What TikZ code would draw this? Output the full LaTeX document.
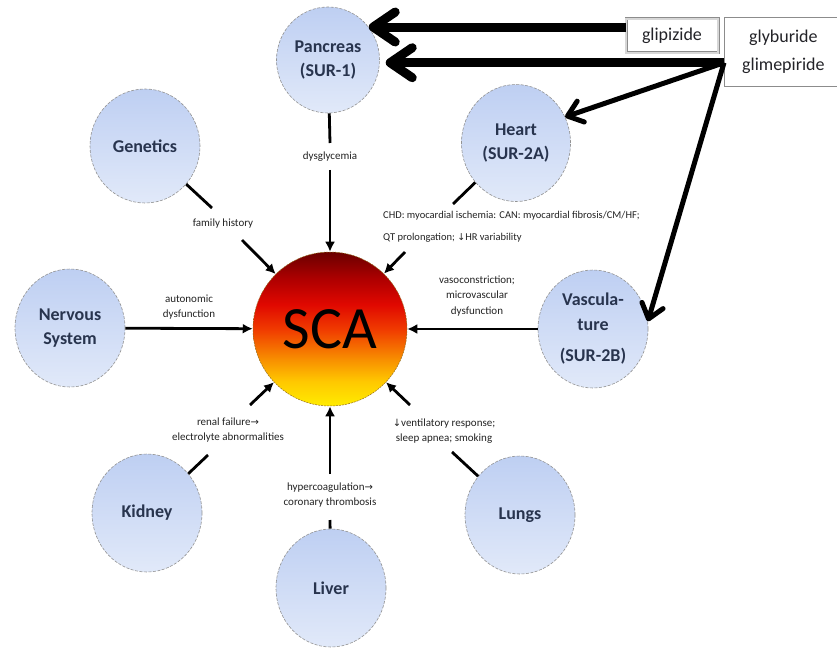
\documentclass[tikz,border=0pt]{standalone}
\usepackage{fontspec}
\setmainfont{Carlito}
\newfontfamily\symf{DejaVu Sans}
\usetikzlibrary{arrows.meta,shapes.geometric}
\definecolor{circtop}{RGB}{190,207,242}
\definecolor{circbot}{RGB}{225,233,249}
\definecolor{circtext}{RGB}{40,52,78}
\definecolor{labtext}{RGB}{35,35,35}
\definecolor{boxtext}{RGB}{35,35,40}
\definecolor{scayel}{RGB}{255,236,0}
\definecolor{scagold}{RGB}{255,200,0}
\definecolor{scaora}{RGB}{248,144,0}
\definecolor{scaorred}{RGB}{240,58,0}
\definecolor{scared}{RGB}{224,8,0}
\definecolor{scadeep}{RGB}{176,0,0}
\definecolor{scadark}{RGB}{106,0,0}
\definecolor{scaborder}{RGB}{150,110,30}
\definecolor{boxline}{RGB}{140,140,140}
\definecolor{boxinner}{RGB}{215,215,215}
\pgfdeclareverticalshading{scashade}{100bp}{color(0bp)=(scayel);color(25bp)=(scayel);color(33bp)=(scagold);color(40bp)=(scaora);color(50bp)=(scaorred);color(58bp)=(scared);color(66bp)=(scadeep);color(75bp)=(scadark);color(100bp)=(scadark)}
\begin{document}
\begin{tikzpicture}[x=1pt,y=-1pt,
  organ/.style={ellipse, minimum width=110pt, minimum height=118pt, inner sep=0pt,
    top color=circtop, bottom color=circbot, draw=gray!85, dash pattern=on 3pt off 1.5pt,
    line width=0.6pt, text=circtext, font=\fontsize{18}{24.5}\selectfont\bfseries, align=center},
  scanode/.style={circle, minimum size=154pt, inner sep=0pt, shading=scashade,
    draw=scaborder, dash pattern=on 2pt off 1pt, line width=0.5pt,
    font=\fontsize{60}{60}\selectfont, text=black},
  lab/.style={font=\fontsize{11}{15.5}\selectfont, text=labtext, align=center, inner sep=0pt},
  drugbox/.style={rectangle, draw=boxline, line width=0.8pt, fill=white, text=boxtext,
    font=\fontsize{18}{28}\selectfont, align=center, inner sep=0pt},
  link/.style={line width=2.8pt},
  toSCA/.style={line width=2.8pt, -{Latex[length=10pt,width=10pt]}},
  bigarr/.style={line width=9pt, -{Straight Barb[length=22pt,width=30pt,round]}},
  medarr/.style={line width=5pt, -{Straight Barb[length=14pt,width=22pt,round]}}
]
\useasboundingbox (0,0) rectangle (837,652);
\fill[white] (0,0) rectangle (837,652);

% organs
\node[organ, minimum width=103pt, minimum height=106pt] (pan) at (328,60) {Pancreas\\(SUR-1)};
\node[organ, minimum width=110pt, minimum height=114pt] (gen) at (145,146) {Genetics};
\node[organ, minimum width=109pt, minimum height=117pt] (heart) at (516,143) {Heart\\(SUR-2A)};
\node[organ] (nerv) at (70,328) {Nervous\\System};
\node[organ] (vas) at (593,329) {Vascula-\\ture\\[7pt](SUR-2B)};
\node[organ] (kid) at (147,513) {Kidney};
\node[organ] (lung) at (520,515) {Lungs};
\node[organ] (liv) at (331,588) {Liver};
\node[scanode] (sca) at (330,329) {SCA};

% drug boxes
\node[drugbox, double=boxinner, double distance=1.4pt, minimum width=92pt, minimum height=34pt] (glip) at (672,36) {glipizide};
\node[drugbox, anchor=west, minimum width=118pt, minimum height=69pt] (gly) at (724,51.5) {glyburide\\glimepiride};

% labels
\node[lab] (dys) at (330,157) {dysglycemia};
\node[lab] (fam) at (223,224) {family history};
\node[lab, align=left, anchor=west, font=\fontsize{10.5}{22}\selectfont] (hlab) at (383,227)
  {CHD: myocardial ischemia: CAN: myocardial fibrosis/CM/HF;\\QT prolongation; {\symf\fontsize{9.5}{9.5}\selectfont↓}HR variability};
\node[lab] (aut) at (189,307) {autonomic\\dysfunction};
\node[lab] (vlab) at (477,296) {vasoconstriction;\\microvascular\\dysfunction};
\node[lab] (klab) at (228,430) {renal failure{\symf\fontsize{10}{10}\selectfont→}\\electrolyte abnormalities};
\node[lab] (llab) at (444,431) {{\symf\fontsize{10}{10}\selectfont↓}ventilatory response;\\sleep apnea; smoking};
\node[lab] (lvlab) at (330,495) {hypercoagulation{\symf\fontsize{10}{10}\selectfont→}\\coronary thrombosis};

% break points
\coordinate (p1) at (330,143); \coordinate (p2) at (330,170);
\coordinate (g1) at (212,208); \coordinate (g2) at (242,240);
\coordinate (h1) at (453,204); \coordinate (h2) at (405,252);
\coordinate (k1) at (208,455); \coordinate (k2) at (250,405);
\coordinate (l1) at (452,452); \coordinate (l2) at (410,405);
\coordinate (v1) at (330,520); \coordinate (v2) at (330,474);

% connectors to SCA
\draw[link] (pan) -- (p1);  \draw[toSCA] (p2) -- (sca);
\draw[link] (gen) -- (g1);  \draw[toSCA] (g2) -- (sca);
\draw[link] (heart) -- (h1); \draw[toSCA] (h2) -- (sca);
\draw[link] (kid) -- (k1);  \draw[toSCA] (k2) -- (sca);
\draw[link] (lung) -- (l1); \draw[toSCA] (l2) -- (sca);
\draw[link] (liv) -- (v1);  \draw[toSCA] (v2) -- (sca);
\draw[toSCA] (nerv) -- (sca);
\draw[toSCA] (vas) -- (sca);

% drug arrows
\coordinate (gs) at (gly.west |- pan.-3);
\draw[bigarr] (glip.west |- pan.39) -- (pan.39);
\draw[bigarr, shorten >=6pt] (gs) -- (pan.-3);
\draw[medarr] (gs) -- (heart.28);
\draw[medarr] (gs) -- (vas.8);
\end{tikzpicture}
\end{document}
